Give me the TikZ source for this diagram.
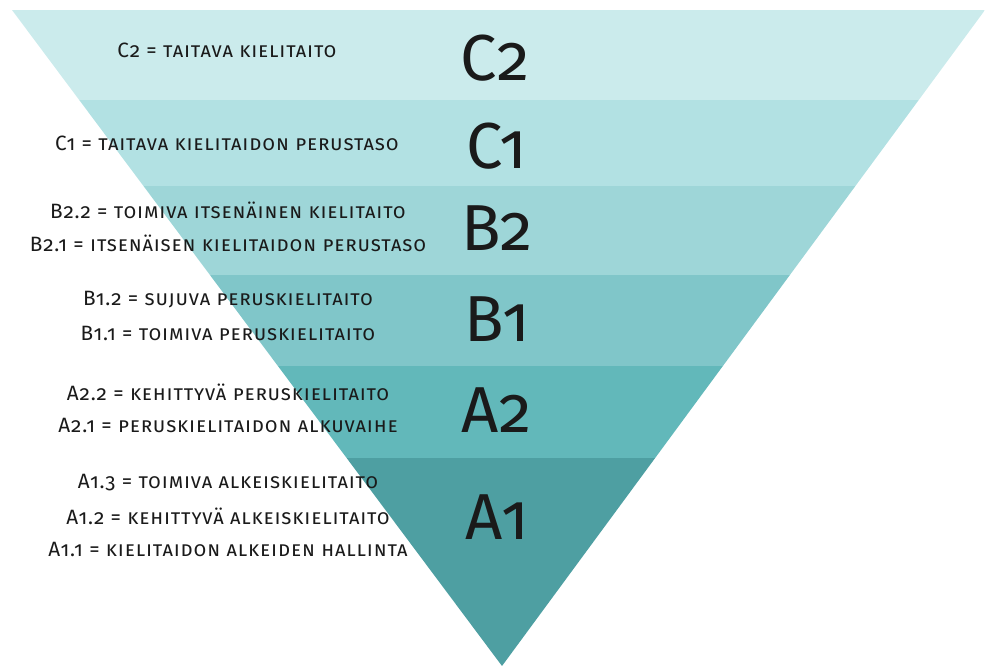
\documentclass[tikz,border=0pt]{standalone}
\usepackage{fontspec}
\setmainfont{Fira Sans}[Numbers=OldStyle]
\definecolor{bandCtwo}{HTML}{CBEBEC}
\definecolor{bandCone}{HTML}{B2E1E3}
\definecolor{bandBtwo}{HTML}{9ED6D8}
\definecolor{bandBone}{HTML}{80C6C9}
\definecolor{bandAtwo}{HTML}{62B8BA}
\definecolor{bandAone}{HTML}{4E9FA2}
\definecolor{ink}{HTML}{1A1A1A}
\tikzstyle{level}=[text=ink, inner sep=0pt, font=\fontsize{37}{40}\selectfont]
\tikzstyle{desc}=[text=ink, inner sep=0pt, font=\fontsize{11.8}{13}\selectfont\scshape\addfontfeatures{LetterSpace=4}]
\newcommand{\desc}{\node[desc]}

\begin{document}
\begin{tikzpicture}[x=0.02cm, y=-0.02cm]
\useasboundingbox (0,0) rectangle (985,666);
\begin{scope}
\clip (12,10)--(985,10)--(502,666)--cycle;
\fill[bandCtwo] (0,10) rectangle (985,100);
\fill[bandCone] (0,100) rectangle (985,186);
\fill[bandBtwo] (0,186) rectangle (985,275);
\fill[bandBone] (0,275) rectangle (985,366);
\fill[bandAtwo] (0,366) rectangle (985,458);
\fill[bandAone] (0,458) rectangle (985,666);
\end{scope}
\node[level] (c2) at (495,58){C2};
\node[level] (c1) at (497,146){C1};
\node[level] (b2) at (497,228){B2};
\node[level] (b1) at (497,319){B1};
\node[level] (a2) at (497,410){A2};
\node[level] (a1) at (497,517){A1};
\desc (c2t) at (227,50){C2 = taitava kielitaito};
\desc (c1t) at (227,143){C1 = taitava kielitaidon perustaso};
\desc (b22) at (228,210){B2.2 = toimiva itsenäinen kielitaito};
\desc (b21) at (228,243){B2.1 = itsenäisen kielitaidon perustaso};
\desc (b12) at (228,300){B1.2 = sujuva peruskielitaito};
\desc (b11) at (228,333){B1.1 = toimiva peruskielitaito};
\desc (a22) at (228,392){A2.2 = kehittyvä peruskielitaito};
\desc (a21) at (228,425){A2.1 = peruskielitaidon alkuvaihe};
\desc (a13) at (228,483){A1.3 = toimiva alkeiskielitaito};
\desc (a12) at (228,516){A1.2 = kehittyvä alkeiskielitaito};
\desc (a11) at (228,549){A1.1 = kielitaidon alkeiden hallinta};
\end{tikzpicture}
\end{document}
